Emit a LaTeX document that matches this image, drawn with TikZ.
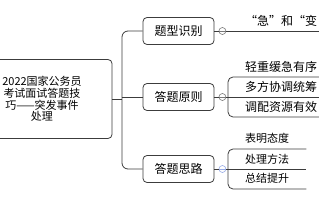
\documentclass[tikz,border=0pt]{standalone}
\usepackage{fontspec}
\newfontfamily\cjkfont{Noto Sans CJK SC}
\usepackage{tikz}
\definecolor{lineC}{RGB}{60,60,60}
\definecolor{knobGrey}{RGB}{120,120,120}
\definecolor{knobBlue}{RGB}{150,170,230}

\begin{document}
\begin{tikzpicture}[
  x=1pt, y=-1pt,
  conn/.style={draw=lineC, line width=0.8pt},
  topic/.style={rectangle, rounded corners=4pt, draw=lineC, line width=0.8pt, fill=white,
    minimum width=71pt, minimum height=27pt, inner sep=0pt,
    font=\cjkfont\fontsize{12}{14}\selectfont},
  rootbox/.style={topic, minimum width=140pt, minimum height=79pt,
    text width=100pt, align=center, font=\cjkfont\fontsize{11}{11.7}\selectfont},
  knob/.style={circle, draw=#1, fill=white, line width=0.6pt, minimum size=7pt, inner sep=0pt,
    path picture={\draw[#1, line width=0.6pt]
      (path picture bounding box.west) -- (path picture bounding box.east);}},
  kid/.style={anchor=south west, inner xsep=17pt, inner ysep=0pt, minimum height=20pt,
    font=\cjkfont\fontsize{12}{14}\selectfont},
  kidS/.style={kid, font=\cjkfont\fontsize{11}{13}\selectfont},
]
  \useasboundingbox (0,0) rectangle (319,200);
  \clip (0,0) rectangle (319,200);

  \node[rootbox] (root) at (42,99) {2022国家公务员\\考试面试答题技\\巧——突发事件\\处理};
  \coordinate (trunk) at (122,99);

  \node[topic] (type) at (178.5,31) {题型识别};
  \node[topic] (rule) at (178.5,97) {答题原则};
  \node[topic] (idea) at (178.5,169) {答题思路};

  \node[knob=knobGrey] (k1) at ([xshift=8pt]type.east) {};
  \node[knob=knobGrey] (k2) at ([xshift=8pt]rule.east) {};
  \node[knob=knobBlue] (k3) at ([xshift=8pt]idea.east) {};

  \node[kid] (ji) at (228,31) {“急”和“变};

  \node[kid] (qing) at (228,77) {轻重缓急有序};
  \node[kid] (duo)  at (228,97) {多方协调统筹};
  \node[kid] (tiao) at (228,117) {调配资源有效};

  \node[kidS] (biao) at (228,149) {表明态度};
  \node[kidS] (chu)  at (228,169) {处理方法};
  \node[kidS] (zong) at (228,189) {总结提升};

  \draw[conn] (root.east) -- (trunk);
  \draw[conn, rounded corners=6pt] (type.west) -| (trunk |- idea.west) -- (idea.west);
  \draw[conn] (rule.west) -- (trunk |- rule.west);

  \draw[conn] (type) -- (k1);
  \draw[conn] (rule) -- (k2);
  \draw[conn] (idea) -- (k3);

  \draw[conn] (k1) -- (ji.south east);

  \draw[conn, rounded corners=5pt] (qing.south east) -- (qing.south west)
    -- (tiao.south west) -- (tiao.south east);
  \draw[conn] (k2) -- (duo.south east);

  \draw[conn, rounded corners=5pt] (biao.south east) -- (biao.south west)
    -- (zong.south west) -- (zong.south east);
  \draw[conn] (k3) -- (chu.south east);
\end{tikzpicture}
\end{document}
